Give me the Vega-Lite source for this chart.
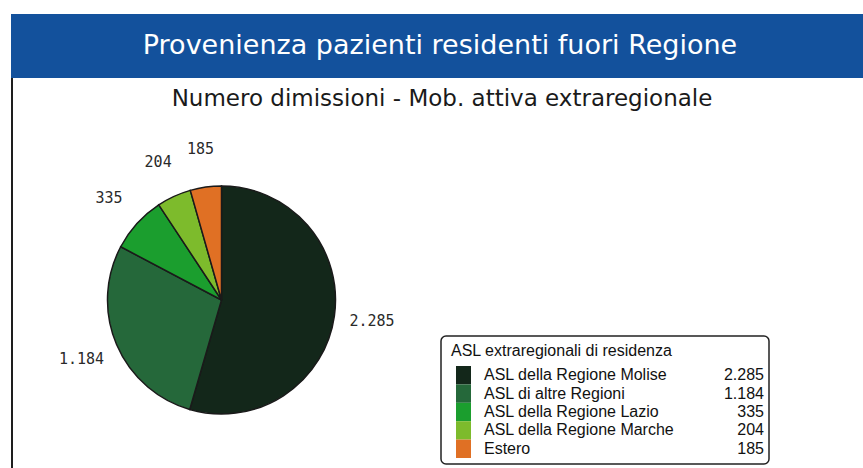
{
  "$schema": "https://vega.github.io/schema/vega-lite/v6.json",
  "background": "white",
  "padding": {"left": 11, "top": 14, "right": 0, "bottom": 0},
  "config": {
    "view": {"stroke": null},
    "concat": {"spacing": 0},
    "locale": {"number": {"decimal": ",", "thousands": ".", "grouping": [3], "currency": ["€", ""]}}
  },
  "datasets": {
    "asl": [
      {"categoria": "ASL della Regione Molise", "dimissioni": 2285},
      {"categoria": "ASL di altre Regioni", "dimissioni": 1184},
      {"categoria": "ASL della Regione Lazio", "dimissioni": 335},
      {"categoria": "ASL della Regione Marche", "dimissioni": 204},
      {"categoria": "Estero", "dimissioni": 185}
    ]
  },
  "vconcat": [
    {
      "width": 852,
      "height": 64,
      "view": {"fill": "#13519c", "stroke": null},
      "data": {"values": [{"titolo": "Provenienza pazienti residenti fuori Regione"}]},
      "mark": {"type": "text", "color": "white", "font": "DejaVu Sans", "fontSize": 27, "baseline": "middle", "dx": 3},
      "encoding": {"text": {"field": "titolo"}}
    },
    {
      "spacing": 0,
      "hconcat": [
        {
          "width": 2,
          "height": 390,
          "view": {"fill": "#1e1e1e", "stroke": null},
          "data": {"values": []},
          "mark": "rect"
        },
        {
          "spacing": 0,
          "vconcat": [
            {
              "width": 850,
              "height": 54,
              "data": {"values": [{"sottotitolo": "Numero dimissioni - Mob. attiva extraregionale"}]},
              "mark": {"type": "text", "font": "DejaVu Sans", "fontSize": 23, "color": "#1a1a1a", "dy": -6, "dx": 4, "baseline": "middle"},
              "encoding": {"text": {"field": "sottotitolo"}}
            },
            {
              "spacing": 10,
              "hconcat": [
                {
                  "width": 417,
                  "height": 336,
                  "data": {"name": "asl"},
                  "encoding": {
                    "theta": {"field": "dimissioni", "type": "quantitative", "stack": true},
                    "order": {"field": "dimissioni", "sort": "descending"}
                  },
                  "layer": [
                    {
                      "mark": {"type": "arc", "outerRadius": 114, "stroke": "#1a1a1a", "strokeWidth": 1.5},
                      "encoding": {
                        "color": {
                          "field": "categoria",
                          "type": "nominal",
                          "scale": {
                            "domain": ["ASL della Regione Molise", "ASL di altre Regioni", "ASL della Regione Lazio", "ASL della Regione Marche", "Estero"],
                            "range": ["#13271a", "#25683a", "#1b9e2e", "#7dbb2c", "#e07024"]
                          },
                          "legend": null
                        }
                      }
                    },
                    {
                      "mark": {"type": "text", "radius": 152, "font": "DejaVu Sans Mono", "fontSize": 15, "color": "#2a2a2a"},
                      "encoding": {"text": {"field": "dimissioni", "type": "quantitative", "format": ",d"}}
                    }
                  ]
                },
                {
                  "spacing": 0,
                  "vconcat": [
                    {
                      "width": 328,
                      "height": 203,
                      "data": {"values": []},
                      "mark": "rect"
                    },
                    {
                      "width": 328,
                      "height": 128,
                      "view": {"stroke": "#222222", "strokeWidth": 1.5, "cornerRadius": 5, "fill": "white"},
                      "title": {"text": "ASL extraregionali di residenza", "anchor": "start", "offset": -23, "dx": 10, "font": "Liberation Sans", "fontSize": 16, "fontWeight": "normal", "color": "#111111"},
                      "data": {"name": "asl"},
                      "encoding": {
                        "y": {
                          "field": "categoria",
                          "type": "nominal",
                          "sort": ["ASL della Regione Molise", "ASL di altre Regioni", "ASL della Regione Lazio", "ASL della Regione Marche", "Estero"],
                          "scale": {"range": [30, 122], "paddingInner": 0, "paddingOuter": 0},
                          "axis": null
                        }
                      },
                      "layer": [
                        {
                          "mark": {"type": "rect", "x": 15, "x2": 30},
                          "encoding": {
                            "color": {
                              "field": "categoria",
                              "type": "nominal",
                              "scale": {
                                "domain": ["ASL della Regione Molise", "ASL di altre Regioni", "ASL della Regione Lazio", "ASL della Regione Marche", "Estero"],
                                "range": ["#13271a", "#25683a", "#1b9e2e", "#7dbb2c", "#e07024"]
                              },
                              "legend": null
                            }
                          }
                        },
                        {
                          "mark": {"type": "text", "align": "left", "x": 43, "font": "Liberation Sans", "fontSize": 16, "color": "#111111"},
                          "encoding": {"text": {"field": "categoria"}}
                        },
                        {
                          "mark": {"type": "text", "align": "right", "x": 323, "font": "Liberation Sans", "fontSize": 16, "color": "#111111"},
                          "encoding": {"text": {"field": "dimissioni", "type": "quantitative", "format": ",d"}}
                        }
                      ]
                    }
                  ]
                }
              ]
            }
          ]
        }
      ]
    }
  ]
}
